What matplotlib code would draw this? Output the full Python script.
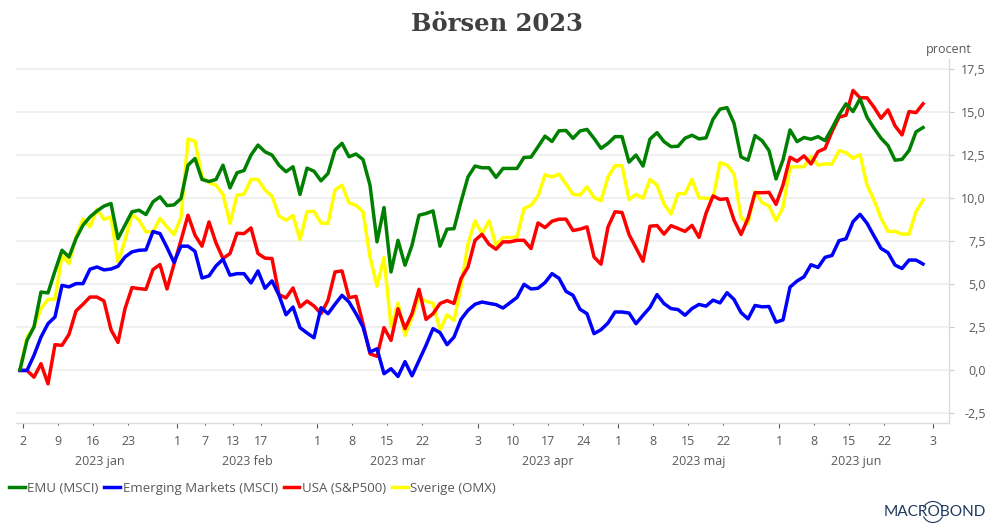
import matplotlib
matplotlib.use('Agg')
import matplotlib.pyplot as plt
from matplotlib.patches import Arc
from matplotlib.transforms import IdentityTransform

W, H = 993, 530

emu = [0.00, 1.71, 2.49, 4.52, 4.47, 5.75, 6.95, 6.56, 7.63, 8.41, 8.89, 9.24, 9.52, 9.67, 7.63, 8.41, 9.19, 9.28, 9.03, 9.77,
       10.06, 9.55, 9.59, 9.96, 11.90, 12.29, 11.07, 10.95, 11.07, 11.90, 10.58, 11.46, 11.59, 12.49, 13.07, 12.68, 12.49, 11.90, 11.52, 11.81,
       10.20, 11.73, 11.55, 10.99, 11.42, 12.78, 13.17, 12.39, 12.55, 12.23, 10.74, 7.44, 9.44, 5.69, 7.53, 6.08, 7.24, 8.99, 9.09, 9.24,
       7.19, 8.18, 8.21, 9.77, 11.22, 11.85, 11.75, 11.75, 11.19, 11.71, 11.71, 11.71, 12.35, 12.37, 12.97, 13.59, 13.28, 13.90, 13.92, 13.46,
       13.89, 13.98, 13.46, 12.88, 13.17, 13.56, 13.56, 12.08, 12.49, 11.85, 13.42, 13.79, 13.27, 12.98, 13.00, 13.47, 13.64, 13.43, 13.49, 14.57,
       15.16, 15.25, 14.34, 12.38, 12.19, 13.62, 13.33, 12.75, 11.10, 12.21, 13.95, 13.27, 13.51, 13.41, 13.56, 13.33, 14.05, 14.83, 15.47, 15.02,
       15.76, 14.69, 14.05, 13.47, 13.04, 12.19, 12.24, 12.75, 13.84, 14.09]
emerging = [-0.04, -0.04, 0.84, 1.90, 2.68, 3.07, 4.91, 4.82, 5.01, 5.01, 5.85, 5.98, 5.81, 5.86, 6.02, 6.56, 6.86, 6.95, 6.97, 8.04,
            7.92, 7.11, 6.25, 7.19, 7.19, 6.89, 5.34, 5.46, 6.04, 6.43, 5.50, 5.59, 5.59, 5.05, 5.75, 4.74, 5.17, 4.33, 3.20, 3.65,
            2.45, 2.14, 1.86, 3.61, 3.26, 3.81, 4.33, 3.94, 3.26, 2.49, 1.03, 1.22, -0.23, 0.06, -0.39, 0.47, -0.35, 0.54, 1.42, 2.39,
            2.16, 1.46, 1.90, 2.93, 3.46, 3.81, 3.94, 3.86, 3.79, 3.59, 3.90, 4.21, 4.97, 4.70, 4.74, 5.07, 5.59, 5.32, 4.56, 4.33,
            3.52, 3.26, 2.10, 2.33, 2.72, 3.36, 3.36, 3.30, 2.68, 3.17, 3.63, 4.37, 3.85, 3.56, 3.50, 3.17, 3.56, 3.80, 3.70, 4.05,
            3.89, 4.48, 4.09, 3.33, 2.96, 3.74, 3.66, 3.68, 2.77, 2.90, 4.81, 5.16, 5.41, 6.11, 5.95, 6.54, 6.65, 7.51, 7.62, 8.61,
            9.04, 8.52, 7.78, 7.06, 6.81, 6.09, 5.89, 6.38, 6.38, 6.15]
usa = [-0.04, -0.04, -0.43, 0.35, -0.82, 1.46, 1.42, 2.06, 3.42, 3.81, 4.23, 4.23, 4.00, 2.33, 1.59, 3.55, 4.78, 4.72, 4.68, 5.83,
       6.12, 4.70, 6.14, 7.53, 8.99, 7.83, 7.19, 8.60, 7.38, 6.47, 6.76, 7.94, 7.92, 8.25, 6.76, 6.49, 6.47, 4.37, 4.18, 4.76,
       3.65, 4.00, 3.71, 3.26, 4.04, 5.69, 5.75, 4.19, 4.27, 2.68, 0.93, 0.78, 2.45, 1.71, 3.55, 2.39, 3.26, 4.68, 2.93, 3.26,
       3.85, 4.02, 3.86, 5.30, 5.98, 7.53, 7.88, 7.30, 7.01, 7.44, 7.44, 7.53, 7.53, 7.05, 8.54, 8.27, 8.64, 8.76, 8.76, 8.10,
       8.18, 8.31, 6.56, 6.14, 8.31, 9.19, 9.15, 7.87, 7.09, 6.31, 8.35, 8.39, 7.89, 8.38, 8.22, 8.05, 8.40, 7.70, 9.10, 10.11,
       9.91, 9.95, 8.71, 7.87, 8.81, 10.30, 10.30, 10.32, 9.62, 10.75, 12.36, 12.13, 12.44, 11.97, 12.69, 12.87, 13.86, 14.69, 14.81, 16.25,
       15.82, 15.82, 15.27, 14.63, 15.12, 14.19, 13.66, 15.02, 14.96, 15.47]
sverige = [0.00, 1.90, 2.49, 3.55, 4.10, 4.10, 6.66, 6.18, 7.73, 8.76, 8.31, 9.34, 8.74, 8.89, 6.27, 7.53, 9.05, 8.70, 8.02, 8.02,
           8.80, 8.31, 7.87, 8.86, 13.42, 13.30, 11.22, 10.88, 10.74, 10.20, 8.51, 10.16, 10.21, 11.07, 11.07, 10.45, 10.10, 8.95, 8.70, 8.97,
           7.57, 9.19, 9.22, 8.54, 8.51, 10.45, 10.74, 9.71, 9.57, 9.19, 6.56, 4.86, 6.53, 2.49, 3.88, 2.00, 3.07, 4.23, 3.98, 3.88,
           2.29, 3.20, 2.87, 4.82, 7.34, 8.66, 7.92, 8.66, 7.24, 7.69, 7.69, 7.73, 9.38, 9.57, 10.10, 11.34, 11.22, 11.38, 10.80, 10.21,
           10.16, 10.64, 10.02, 9.83, 11.22, 11.87, 11.87, 9.90, 10.20, 9.98, 11.07, 10.74, 9.64, 9.06, 10.24, 10.24, 11.08, 10.01, 9.97, 9.97,
           12.05, 11.91, 11.39, 8.85, 8.52, 10.36, 9.72, 9.53, 8.67, 9.45, 11.80, 11.80, 11.82, 12.40, 11.91, 11.97, 11.97, 12.75, 12.63, 12.30,
           12.52, 10.75, 9.87, 8.81, 8.05, 8.05, 7.89, 7.89, 9.20, 9.86]

# trading day index of the ticks
month_pos = [0, 22, 42, 65, 85, 108, 130]
month_labels = ['2', '1', '1', '3', '1', '1', '3']
week_pos = [5, 10, 15, 26, 30, 34, 47, 52, 57, 70, 75, 80, 90, 95, 100, 113, 118, 123]
week_labels = ['9', '16', '23', '7', '13', '17', '8', '15', '22', '10', '17', '24', '8', '15', '22', '8', '15', '22']
months = ['2023 jan', '2023 feb', '2023 mar', '2023 apr', '2023 maj', '2023 jun']
yticks = [-2.5, 0, 2.5, 5, 7.5, 10, 12.5, 15, 17.5]

GREY = '#595959'
plt.rcParams['font.family'] = ['Open Sans', 'DejaVu Sans']
plt.rcParams['font.size'] = 9

fig = plt.figure(figsize=(W / 100, H / 100), dpi=100)
ax = fig.add_axes([16 / W, 1 - 422.7 / H, 933 / W, 363.4 / H])
ax.set_xlim(-0.57, 132.71)
ax.set_ylim(-3.08, 18.06)

days = list(range(len(emu)))
ax.plot(days, sverige, color='#ffff00', lw=2.5, label='Sverige (OMX)', zorder=3)
ax.plot(days, usa, color='#ff0000', lw=2.5, label='USA (S&P500)', zorder=4)
ax.plot(days, emerging, color='#0000ff', lw=2.5, label='Emerging Markets (MSCI)', zorder=5)
ax.plot(days, emu, color='#008000', lw=2.5, label='EMU (MSCI)', zorder=6)

ax.spines[['top', 'left']].set_visible(False)
ax.spines[['bottom', 'right']].set_color('#dcdcdc')
ax.spines[['bottom', 'right']].set_linewidth(1)
ax.grid(axis='y', color='#ececec', lw=1.1)
ax.set_axisbelow(True)

ax.set_xticks([p + 0.47 for p in month_pos], month_labels)
ax.set_xticks([p + 0.47 for p in week_pos], week_labels, minor=True)
ax.tick_params(axis='x', which='major', length=3.6, width=0.8, color='#595959', labelcolor=GREY, pad=5)
ax.tick_params(axis='x', which='minor', length=1.5, width=0.8, color='#595959', labelcolor=GREY, pad=7.1, labelsize=9)

ax.yaxis.tick_right()
ax.set_yticks(yticks, [f'{v:.1f}'.replace('.', ',') for v in yticks])
ax.tick_params(axis='y', length=3.6, width=0.8, color='#cccccc', labelcolor=GREY, pad=23)
for lab in ax.get_yticklabels():
    lab.set_ha('right')

for k, name in enumerate(months):
    mid = (month_pos[k] + month_pos[k + 1]) / 2 + 0.47
    ax.annotate(name, (mid, 0), xycoords=('data', 'axes fraction'), xytext=(0, -23.4),
                textcoords='offset points', ha='center', va='top', color=GREY)

fig.text(497 / W, 1 - 24 / H, 'Börsen 2023', family='DejaVu Serif', weight='bold',
         size=17.5, color='#404040', ha='center', va='center')
fig.text(972 / W, 1 - 49 / H, 'procent', ha='right', va='center', color=GREY)

# legend in the order of the reference
h, l = ax.get_legend_handles_labels()
leg = fig.legend(h[::-1], l[::-1], ncols=4, loc='center left', bbox_to_anchor=(9 / W, 1 - 488.5 / H),
                 frameon=False, borderpad=0, borderaxespad=0, handlelength=1.2, handletextpad=0.2,
                 columnspacing=0.42, labelcolor=GREY, fontsize=9.5)

# logo
navy = '#1f3a5f'
fig.text(986 / W, 1 - 512 / H, 'MACROBOND', ha='right', va='center', size=11.1, color=navy, family='Lato')
cx, cy = 933, H - 512
fig.add_artist(Arc((cx, cy), 21, 21, theta1=25, theta2=155, color=navy, lw=0.8, transform=IdentityTransform()))
fig.add_artist(Arc((cx, cy), 21, 21, theta1=205, theta2=335, color=navy, lw=0.8, transform=IdentityTransform()))

fig.savefig('out.png', dpi=100)
